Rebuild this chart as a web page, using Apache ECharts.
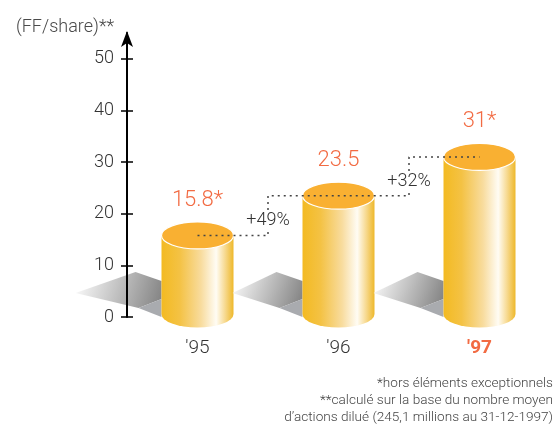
<!DOCTYPE html>
<html>
<head>
<meta charset="utf-8">
<script src="https://cdn.jsdelivr.net/npm/echarts@6/dist/echarts.min.js"></script>
<style>
html,body{margin:0;padding:0;background:#fff;}
#chart{width:559px;height:430px;}
</style>
</head>
<body>
<div id="chart"></div>
<script>
// ---- data ----
var categories = ["'95", "'96", "'97"];
var values = [15.8, 23.5, 31];
var valueLabels = ['15.8*', '23.5', '31*'];
var growthLabels = ['+49%', '+32%'];
var yTicks = [0, 10, 20, 30, 40, 50];
var unitLabel = '(FF/share)**';
var footnotes = [
  '*hors éléments exceptionnels',
  '**calculé sur la base du nombre moyen',
  'd\u2019actions dilué (245,1 millions au 31-12-1997)'
];

var FONT = "Roboto, 'Liberation Sans', sans-serif";
var W = 300;

var chart = echarts.init(document.getElementById('chart'), null, {renderer: 'canvas'});

function cylinderItem(params, api) {
  var i = params.dataIndex;
  var v = api.value(1);
  var top = api.coord([api.value(0), v]);
  var base = api.coord([api.value(0), 0]);
  var cx = top[0];
  var rx = 36, ry = 13.5;
  var L = cx - rx, R = cx + rx;
  var ty = top[1];
  var by = base[1] - 3;
  var y0 = base[1];
  var bodyGrad = {
    type: 'linear', x: 0, y: 0, x2: 1, y2: 0,
    colorStops: [
      {offset: 0, color: '#F3BA22'},
      {offset: 0.25, color: '#F4C244'},
      {offset: 0.55, color: '#F8DC9E'},
      {offset: 0.76, color: '#FFFCF4'},
      {offset: 0.88, color: '#F7DA92'},
      {offset: 1, color: '#EEB82A'}
    ]
  };
  var shadowLen = (i === 0) ? 86 : 70;
  var children = [
    {
      type: 'polygon',
      shape: {points: [[L - shadowLen, y0 - 24], [L - 26, y0 - 45], [L, y0 - 36], [L, y0 - 18], [L - 23, y0 - 9]]},
      style: {
        fill: {
          type: 'linear', x: 0, y: 0, x2: 1, y2: 0.7,
          colorStops: [{offset: 0, color: '#ffffff'}, {offset: 1, color: '#858585'}]
        }
      }
    },
    {
      type: 'polygon',
      shape: {points: [[L - 23, y0 - 9], [L, y0 - 18], [L, y0]]},
      style: {fill: '#A9ABAF'}
    },
    {
      type: 'path',
      shape: {pathData: 'M' + L + ' ' + ty + ' L' + L + ' ' + by + ' A' + rx + ' ' + ry + ' 0 0 0 ' + R + ' ' + by + ' L' + R + ' ' + ty + ' Z'},
      style: {fill: bodyGrad}
    },
    {
      type: 'path',
      shape: {pathData: 'M' + L + ' ' + ty + ' A' + rx + ' ' + ry + ' 0 1 0 ' + R + ' ' + ty + ' A' + rx + ' ' + ry + ' 0 1 0 ' + L + ' ' + ty + ' Z'},
      style: {fill: '#F9B032', stroke: '#ffffff', lineWidth: 1.2}
    },
    {
      type: 'text',
      style: {
        text: valueLabels[i], x: cx, y: ty - 35,
        align: 'center', verticalAlign: 'middle',
        fill: '#F26B43', fontSize: 22, fontFamily: FONT, fontWeight: W
      }
    }
  ];
  return {type: 'group', children: children};
}

function growthItem(params, api) {
  var i = params.dataIndex;
  if (i === 0) return null;
  var a = api.coord([i - 1, values[i - 1]]);
  var b = api.coord([i, values[i]]);
  return {
    type: 'text',
    z2: 10,
    style: {
      text: growthLabels[i - 1],
      x: (a[0] + b[0]) / 2, y: (a[1] + b[1]) / 2 + 5,
      align: 'center', verticalAlign: 'middle',
      fill: '#333', fontSize: 18, fontFamily: FONT, fontWeight: W,
      backgroundColor: '#ffffff', padding: [1, 1]
    }
  };
}

var option = {
  animation: false,
  backgroundColor: '#ffffff',
  title: {
    text: unitLabel, left: 11, top: 13,
    textStyle: {fontSize: 18, fontWeight: W, color: '#4a4a4a', fontFamily: FONT}
  },
  grid: {left: 127, right: 9, top: 33, bottom: 113},
  xAxis: {
    type: 'category',
    data: categories,
    boundaryGap: true,
    axisLine: {show: false},
    axisTick: {show: false},
    axisLabel: {
      margin: 22,
      fontSize: 19, color: '#333', fontFamily: FONT, fontWeight: W,
      formatter: function (v, idx) { return idx === categories.length - 1 ? '{hl|' + v + '}' : v; },
      rich: {hl: {fontSize: 19, color: '#F26B43', fontWeight: 'bold', fontFamily: FONT}}
    },
    splitLine: {show: false}
  },
  yAxis: [
    {
      type: 'value', min: 0, max: 55, interval: 10,
      z: 6,
      axisLine: {show: true, lineStyle: {color: '#000', width: 2}, symbol: ['none', 'arrow'], symbolSize: [9, 16], symbolOffset: [0, 2]},
      axisTick: {show: true, inside: false, length: 6, lineStyle: {color: '#000', width: 1.5}, customValues: yTicks},
      axisLabel: {margin: 13, fontSize: 18, color: '#333', fontFamily: FONT, fontWeight: W, customValues: yTicks},
      splitLine: {show: false}
    },
    {
      type: 'value', min: 0, max: 55, interval: 10, position: 'left',
      z: 6,
      axisLine: {show: false},
      axisTick: {show: true, inside: true, length: 6, lineStyle: {color: '#000', width: 1.5}, customValues: yTicks},
      axisLabel: {show: false},
      splitLine: {show: false}
    }
  ],
  series: [
    {
      type: 'custom',
      renderItem: cylinderItem,
      data: values.map(function (v, i) { return [i, v]; }),
      z: 2
    },
    {
      type: 'line',
      data: values,
      step: 'middle',
      symbol: 'none',
      lineStyle: {type: [2, 4], color: '#444', width: 1.5},
      z: 4
    },
    {
      type: 'custom',
      renderItem: growthItem,
      data: values.map(function (v, i) { return [i, v]; }),
      z: 5
    }
  ],
  graphic: footnotes.map(function (t, k) {
    return {
      type: 'text', right: 6, top: 377 + k * 17,
      style: {text: t, fill: '#444', fontSize: 13.6, fontFamily: FONT, fontWeight: W, textAlign: 'right'}
    };
  })
};
chart.setOption(option);
</script>
</body>
</html>
